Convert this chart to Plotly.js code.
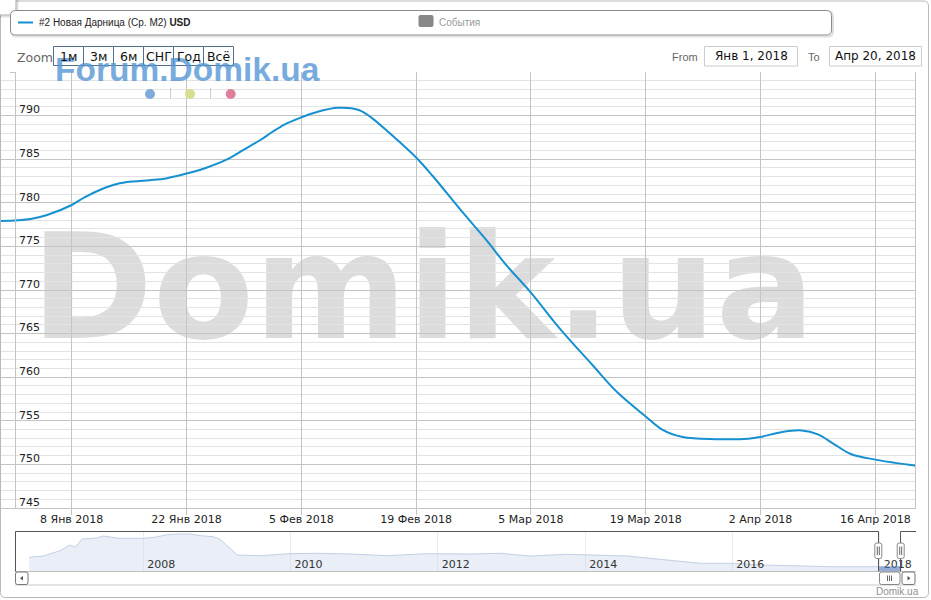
<!DOCTYPE html>
<html><head><meta charset="utf-8">
<script src="https://cdn.plot.ly/plotly-3.0.1.min.js"></script>
<style>
html,body{margin:0;padding:0;background:#fff;}
#wrap{position:relative;width:931px;height:600px;overflow:hidden;}
#wm{position:absolute;left:31px;top:214px;font-family:'DejaVu Sans';font-weight:bold;font-size:147px;color:#dcdcdc;line-height:1;white-space:nowrap;z-index:0;}
#chart{position:absolute;left:0;top:0;width:931px;height:600px;z-index:1;}
</style></head>
<body><div id="wrap"><div id="wm">Domik.ua</div><div id="chart"></div></div>
<script>
// ---- main series ----
const dates = ['2017-12-30','2018-01-03','2018-01-05','2018-01-08','2018-01-09 12:00','2018-01-11 12:00','2018-01-13 12:00','2018-01-15 12:00','2018-01-17 12:00','2018-01-19 12:00','2018-01-22','2018-01-24 12:00','2018-01-27','2018-01-29','2018-01-31','2018-02-01 12:00','2018-02-03','2018-02-05','2018-02-07','2018-02-09 12:00','2018-02-12','2018-02-13 12:00','2018-02-16','2018-02-19','2018-02-21','2018-02-24 12:00','2018-02-27 12:00','2018-03-02','2018-03-05','2018-03-08 12:00','2018-03-12 12:00','2018-03-15 12:00','2018-03-19','2018-03-21','2018-03-23 12:00','2018-03-27 12:00','2018-03-31 12:00','2018-04-02','2018-04-04 12:00','2018-04-07','2018-04-09','2018-04-11','2018-04-13','2018-04-16','2018-04-21'];
const prices = [777.9,778.15,778.6,779.75,780.6,781.5,782.15,782.45,782.6,782.8,783.35,784.05,785.0,786.1,787.2,788.15,789.0,789.8,790.45,790.9,790.65,789.8,787.8,785.2,783.1,779.1,775.8,772.85,769.7,765.6,761.4,758.3,755.5,754.0,753.15,752.9,752.95,753.15,753.7,753.9,753.45,752.3,751.2,750.55,749.85];

// ---- navigator series ----
const navDates = ['2006-06-14','2006-08-23','2006-11-15','2007-01-03','2007-01-28','2007-03-04','2007-05-17','2007-06-16','2007-08-30','2008-01-01','2008-02-19','2008-04-29','2008-06-17','2008-08-21','2008-10-09','2008-12-13','2009-01-17','2009-04-11','2009-08-03','2009-12-30','2010-05-13','2010-10-23','2011-04-25','2011-11-09','2012-06-10','2012-11-05','2013-04-03','2013-10-04','2014-07-28','2015-02-12','2015-07-25','2016-01-05','2016-05-18','2016-10-29','2017-04-15','2017-12-19','2018-04-20'];
const navPrices = [1184,1244,1489,1752,1646,2029,2076,2168,2062,2062,2099,2228,2260,2260,2182,2136,2016,1290,1258,1350,1369,1336,1258,1350,1336,1369,1244,1323,1244,1059,907,907,828,796,750,750,750];

// ---- ticks / labels ----
const xTickVals = ['2018-01-08','2018-01-22','2018-02-05','2018-02-19','2018-03-05','2018-03-19','2018-04-02','2018-04-16'];
const xTickText = ['8 Янв 2018','22 Янв 2018','5 Фев 2018','19 Фев 2018','5 Мар 2018','19 Мар 2018','2 Апр 2018','16 Апр 2018'];
const yTickVals = [745,750,755,760,765,770,775,780,785,790,795];
const yTickText = ['745','750','755','760','765','770','775','780','785','790',''];
const navTickVals = ['2008-01-01','2010-01-01','2012-01-01','2014-01-01','2016-01-01','2018-01-01'];
const navTickText = ['2008','2010','2012','2014','2016','2018'];
const rangeButtons = ['1м','3м','6м','СНГ','Год','Всё'];
const seriesName = '#2 Новая Дарница (Ср. М2)';
const currency = 'USD';
const eventsName = 'События';
const fromText = 'Янв 1, 2018';
const toText = 'Апр 20, 2018';

// ---- helpers (pixel -> paper) ----
const W = 931, H = 600;
const px = x => x / W;
const py = y => 1 - y / H;
function rr(x0, y0, x1, y1, r) {
  const P = (x, y) => px(x) + ',' + py(y);
  return 'M' + P(x0 + r, y0) + ' L' + P(x1 - r, y0) + ' Q' + P(x1, y0) + ' ' + P(x1, y0 + r) +
    ' L' + P(x1, y1 - r) + ' Q' + P(x1, y1) + ' ' + P(x1 - r, y1) +
    ' L' + P(x0 + r, y1) + ' Q' + P(x0, y1) + ' ' + P(x0, y1 - r) +
    ' L' + P(x0, y0 + r) + ' Q' + P(x0, y0) + ' ' + P(x0 + r, y0) + ' Z';
}
function pathPx(pts) { return pts.map((p, i) => (p[2] || (i ? 'L' : 'M')) + px(p[0]) + ',' + py(p[1])).join(' '); }
function rect(x0, y0, x1, y1, line, fill, w) {
  return {type: 'rect', xref: 'paper', yref: 'paper', x0: px(x0), x1: px(x1), y0: py(y1), y1: py(y0),
    line: {color: line || 'rgba(0,0,0,0)', width: w === undefined ? 1 : w}, fillcolor: fill || 'rgba(0,0,0,0)'};
}
function hline(x0, x1, y, color) { return {type: 'line', xref: 'paper', yref: 'paper', x0: px(x0), x1: px(x1), y0: py(y), y1: py(y), line: {color: color, width: 1}}; }
function vline(x, y0, y1, color) { return {type: 'line', xref: 'paper', yref: 'paper', x0: px(x), x1: px(x), y0: py(y0), y1: py(y1), line: {color: color, width: 1}}; }
function txt(text, x, y, size, color, anchor, family, weight) {
  return {text: text, x: px(x), y: py(y), xref: 'paper', yref: 'paper', showarrow: false,
    xanchor: anchor || 'left', yanchor: 'middle', font: {size: size, color: color, family: family || 'DejaVu Sans', weight: weight || 'normal'}};
}

const BLUE = '#1690d0';

const traces = [
  {type: 'scatter', mode: 'lines', x: dates, y: prices, xaxis: 'x', yaxis: 'y',
   line: {color: BLUE, width: 2, shape: 'spline', smoothing: 1}, hoverinfo: 'skip', showlegend: false},
  {type: 'scatter', mode: 'lines', x: navDates, y: navPrices, xaxis: 'x2', yaxis: 'y2',
   fill: 'tozeroy', fillcolor: 'rgba(200,212,235,0.4)', line: {color: '#c3cfe4', width: 1}, hoverinfo: 'skip', showlegend: false}
];

const shapes = [];
// outer border
shapes.push({type: 'path', xref: 'paper', yref: 'paper', path: rr(0.5, 1, 928.5, 597.5, 5), line: {color: '#b8b8b8', width: 1}, fillcolor: 'rgba(0,0,0,0)'});
// small top-left box
shapes.push({type: 'path', xref: 'paper', yref: 'paper', path: rr(-4, -4, 17.5, 16.5, 4), line: {color: 'rgba(0,0,0,0.12)', width: 2}, fillcolor: 'rgba(0,0,0,0)'});
shapes.push({type: 'path', xref: 'paper', yref: 'paper', path: rr(-5, -5, 16, 15, 4), line: {color: '#a8a8a8', width: 1}, fillcolor: '#ffffff'});
// legend box with shadow
shapes.push({type: 'path', xref: 'paper', yref: 'paper', path: rr(11.5, 11.5, 833, 36.5, 5), line: {color: 'rgba(0,0,0,0.12)', width: 2}, fillcolor: 'rgba(0,0,0,0)'});
shapes.push({type: 'path', xref: 'paper', yref: 'paper', path: rr(10.5, 10.5, 831.5, 35, 5), line: {color: '#8a8a8a', width: 1}, fillcolor: '#ffffff'});
// legend line sample
shapes.push({type: 'line', xref: 'paper', yref: 'paper', x0: px(18), x1: px(33), y0: py(22.5), y1: py(22.5), line: {color: BLUE, width: 2}});
// events icon
shapes.push({type: 'path', xref: 'paper', yref: 'paper', path: rr(418.5, 15, 433.5, 27, 2), line: {color: '#888', width: 0}, fillcolor: '#888888'});
// range selector buttons
rangeButtons.forEach((b, i) => { shapes.push(rect(53.5 + 30 * i, 46.5, 83.5 + 30 * i, 65.5, '#53708f', null, 1)); });
// input boxes
shapes.push(rect(704.5, 46.5, 797.5, 66, '#cccccc', '#ffffff', 1));
shapes.push(rect(829.5, 46.5, 921.5, 66, '#cccccc', '#ffffff', 1));
// dots + separators
shapes.push({type: 'circle', xref: 'paper', yref: 'paper', x0: px(145), x1: px(155), y0: py(99), y1: py(89), line: {width: 0}, fillcolor: '#7eabd9'});
shapes.push({type: 'circle', xref: 'paper', yref: 'paper', x0: px(185), x1: px(195), y0: py(99), y1: py(89), line: {width: 0}, fillcolor: '#d8de90'});
shapes.push({type: 'circle', xref: 'paper', yref: 'paper', x0: px(225.7), x1: px(235.7), y0: py(99), y1: py(89), line: {width: 0}, fillcolor: '#de809a'});
[170.5, 210.5].forEach(x => shapes.push(vline(x, 88, 98, '#cccccc')));
// hide gridlines left of y axis and below the 745 line (data line stays on top)
shapes.push({type: 'rect', xref: 'paper', yref: 'y', x0: 0, x1: px(15), y0: 744, y1: 796, fillcolor: '#ffffff', line: {width: 0}, layer: 'between'});
shapes.push({type: 'rect', xref: 'paper', yref: 'y', x0: 0, x1: px(917), y0: 744, y1: 744.9, fillcolor: '#ffffff', line: {width: 0}, layer: 'between'});
// y axis line and right border of plot
shapes.push(vline(15.5, 72, 508, '#c4c4c4'));
shapes.push(vline(915.5, 72, 508, '#c4c4c4'));
// scrollbar track (white, hides navigator below 571)
shapes.push(rect(15, 571.5, 916, 588, null, '#ffffff', 0));
shapes.push(hline(15, 916, 571.5, '#c0c0c0'));
shapes.push(hline(15, 916, 585, '#c8c8c8'));
// navigator selected zone fill
shapes.push(rect(879, 566.5, 900.5, 571, null, 'rgba(90,130,195,0.6)', 0));
// navigator outline
shapes.push({type: 'path', xref: 'paper', yref: 'paper', path: pathPx([[15.5, 571.5], [15.5, 531.5], [878.5, 531.5], [878.5, 571.5], [900.5, 571.5, 'M'], [900.5, 531.5], [916, 531.5]]), line: {color: '#555555', width: 1}, fillcolor: 'rgba(0,0,0,0)'});
// scrollbar buttons
shapes.push({type: 'path', xref: 'paper', yref: 'paper', path: rr(15.5, 572, 28, 584.5, 2), line: {color: '#777', width: 1}, fillcolor: '#ffffff'});
shapes.push({type: 'path', xref: 'paper', yref: 'paper', path: rr(902, 572, 915, 584.5, 2), line: {color: '#777', width: 1}, fillcolor: '#ffffff'});
shapes.push({type: 'path', xref: 'paper', yref: 'paper', path: pathPx([[23, 576], [23, 580.5], [20, 578.2]]) + ' Z', line: {width: 0}, fillcolor: '#555'});
shapes.push({type: 'path', xref: 'paper', yref: 'paper', path: pathPx([[907.5, 576], [907.5, 580.5], [910.5, 578.2]]) + ' Z', line: {width: 0}, fillcolor: '#555'});
// scrollbar thumb
shapes.push({type: 'path', xref: 'paper', yref: 'paper', path: rr(879.5, 572, 900, 584.5, 2), line: {color: '#888', width: 1}, fillcolor: '#ffffff'});
[887.5, 889.5, 891.5].forEach(x => shapes.push(vline(x, 575.5, 581, '#666')));
// navigator handles
[878.3, 900.7].forEach(c => {
  shapes.push({type: 'path', xref: 'paper', yref: 'paper', path: rr(c - 3.5, 543, c + 3.5, 558.5, 2), line: {color: '#888', width: 1}, fillcolor: '#ffffff'});
  [c - 1, c + 1].forEach(x => shapes.push(vline(x, 546.5, 555, '#666')));
});

const annotations = [];
annotations.push(txt('Forum.Domik.ua', 53, 69.5, 33.5, 'rgba(83,148,212,0.78)', 'left', 'Liberation Sans', 'bold'));
annotations.push(txt(seriesName + ' <b>' + currency + '</b>', 37, 22.5, 10, '#222', 'left', 'Liberation Sans'));
annotations.push(txt(eventsName, 437, 22.5, 10, '#999', 'left', 'Liberation Sans'));
annotations.push(txt('Zoom', 14.5, 57.5, 12.5, '#666'));
rangeButtons.forEach((b, i) => annotations.push(txt(b, 68.5 + 30 * i, 56.5, 12.5, '#111', 'center')));
annotations.push(txt('From', 669.5, 57, 11, '#666', 'left', 'Liberation Sans'));
annotations.push(txt(fromText, 751, 56.5, 12, '#111', 'center'));
annotations.push(txt('To', 806, 57, 11, '#666', 'left', 'Liberation Sans'));
annotations.push(txt(toText, 875.5, 56.5, 12, '#111', 'center'));
annotations.push(txt('Domik.ua', 921, 591.5, 10, '#909090', 'right', 'Liberation Sans'));

const layout = {
  width: W, height: H,
  margin: {l: 0, r: 0, t: 0, b: 0},
  paper_bgcolor: 'rgba(0,0,0,0)', plot_bgcolor: 'rgba(0,0,0,0)',
  font: {family: 'DejaVu Sans', color: '#222'},
  showlegend: false,
  xaxis: {domain: [0, px(916)], type: 'date', range: ['2017-12-30 06:09', '2018-04-20 23:00'],
    tickmode: 'array', tickvals: xTickVals, ticktext: xTickText, showgrid: true, gridcolor: '#c4c4c4',
    ticks: '', showline: false, zeroline: false, ticklabelstandoff: -4, tickfont: {size: 11, color: '#222'}, anchor: 'y', fixedrange: true},
  yaxis: {domain: [py(515), py(72)], range: [744.2, 795], anchor: 'free', position: px(15),
    tickmode: 'array', tickvals: yTickVals, ticktext: yTickText,
    showgrid: true, gridcolor: '#c4c4c4', zeroline: false,
    minor: {tickmode: 'linear', tick0: 745, dtick: 1, showgrid: true, gridcolor: '#e3e3e3', ticks: ''},
    ticks: 'outside', ticklen: 5, tickcolor: '#c4c4c4', showline: false,
    ticklabelposition: 'inside', ticklabelshift: -6, tickfont: {size: 11, color: '#222'}, fixedrange: true},
  xaxis2: {domain: [px(15), px(916)], anchor: 'y2', type: 'date', range: ['2006-04-05', '2018-06-30'],
    tickmode: 'array', tickvals: navTickVals, ticktext: navTickText, showgrid: true, gridcolor: '#ececec',
    ticks: '', showline: false, zeroline: false, ticklabelposition: 'inside right', ticklabelshift: 4, tickfont: {size: 11, color: '#333'}},
  yaxis2: {domain: [py(576), py(532)], anchor: 'x2', range: [320, 2353], visible: false, showgrid: false},
  shapes: shapes,
  annotations: annotations
};

Plotly.newPlot('chart', traces, layout, {displayModeBar: false, staticPlot: true});
</script>
</body></html>
